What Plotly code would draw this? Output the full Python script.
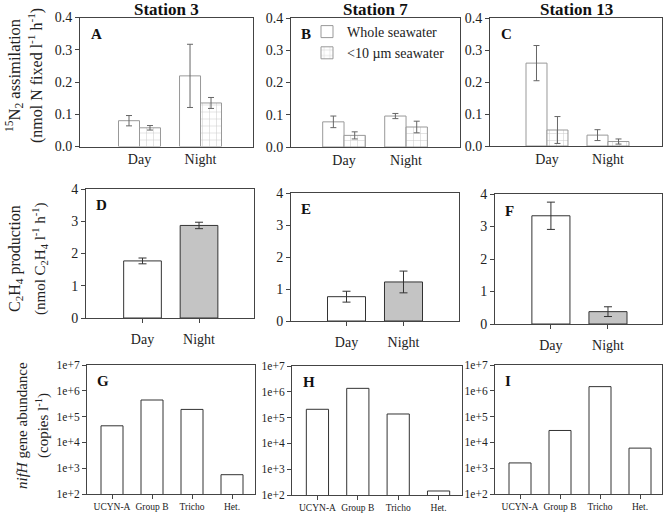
import plotly.graph_objects as go

# ---- data ----
periods = ["Day", "Night"]
groups = ["UCYN-A", "Group B", "Tricho", "Het."]

# 15N2 assimilation (nmol N fixed l-1 h-1)
n2_whole_st3 = [0.080, 0.219]
n2_whole_st3_err = [0.016, 0.098]
n2_small_st3 = [0.058, 0.135]
n2_small_st3_err = [0.007, 0.017]

n2_whole_st7 = [0.078, 0.096]
n2_whole_st7_err = [0.018, 0.008]
n2_small_st7 = [0.036, 0.062]
n2_small_st7_err = [0.011, 0.018]

n2_whole_st13 = [0.259, 0.034]
n2_whole_st13_err = [0.055, 0.017]
n2_small_st13 = [0.050, 0.014]
n2_small_st13_err = [0.042, 0.008]

# C2H4 production (nmol C2H4 l-1 h-1)
c2h4_st3 = [1.77, 2.87]
c2h4_st3_err = [0.09, 0.10]
c2h4_st7 = [0.76, 1.22]
c2h4_st7_err = [0.17, 0.34]
c2h4_st13 = [3.33, 0.38]
c2h4_st13_err = [0.42, 0.15]

# nifH gene abundance (copies l-1)
nifh_st3 = [4.4e4, 4.4e5, 1.9e5, 5.6e2]
nifh_st7 = [2.1e5, 1.36e6, 1.38e5, 1.43e2]
nifh_st13 = [1.6e3, 2.9e4, 1.45e6, 6.0e3]

stations = ["Station 3", "Station 7", "Station 13"]
letters = ["A", "B", "C", "D", "E", "F", "G", "H", "I"]

W, H = 667, 516
FONT = "Liberation Serif, Times New Roman, serif"
LINE = "#444"
TXT = "#222"


def px_x(a, b):
    return [a / W, b / W]


def px_y(top, bottom):
    return [1 - bottom / H, 1 - top / H]


# panel boxes in pixels: (left, right, top, bottom)
boxes = [
    (80, 253, 17.5, 146.5), (291, 460, 18, 147), (490, 662, 18, 146),
    (86, 254, 189, 318), (291, 459, 193, 321), (495, 662, 194, 324),
    (87, 255, 365, 494), (292, 462, 366, 495), (495, 662, 365, 494),
]
xranges = [
    [-0.975, 1.86], [-0.855, 1.87], [-0.934, 1.885],
    [-1.0, 1.973], [-0.974, 1.974], [-0.98, 1.947],
    [-0.625, 3.575], [-0.63, 3.58], [-0.625, 3.55],
]

fig = go.Figure()

w1 = 0.344
row1 = [
    (n2_whole_st3, n2_whole_st3_err, n2_small_st3, n2_small_st3_err),
    (n2_whole_st7, n2_whole_st7_err, n2_small_st7, n2_small_st7_err),
    (n2_whole_st13, n2_whole_st13_err, n2_small_st13, n2_small_st13_err),
]
for i, (wv, we, sv, se) in enumerate(row1):
    ax = "" if i == 0 else str(i + 1)
    fig.add_trace(go.Bar(
        x=[0, 1], y=wv, width=w1, offset=-w1,
        xaxis="x" + ax, yaxis="y" + ax,
        name="Whole seawater", showlegend=(i == 1), legendrank=1,
        marker={"color": "white", "line": {"color": "#999", "width": 1}},
        error_y={"type": "data", "array": we, "color": "#666",
                 "thickness": 1, "width": 3},
    ))
    fig.add_trace(go.Bar(
        x=[0, 1], y=sv, width=w1, offset=0,
        xaxis="x" + ax, yaxis="y" + ax,
        name="<10 \u00b5m seawater", showlegend=(i == 1), legendrank=2,
        marker={"color": "white", "line": {"color": "#999", "width": 1},
                "pattern": {"shape": "+", "fgcolor": "#999",
                            "bgcolor": "white", "size": 7,
                            "solidity": 0.15}},
        error_y={"type": "data", "array": se, "color": "#666",
                 "thickness": 1, "width": 3},
    ))

row2 = [(c2h4_st3, c2h4_st3_err), (c2h4_st7, c2h4_st7_err),
        (c2h4_st13, c2h4_st13_err)]
for i, (v, e) in enumerate(row2):
    ax = str(i + 4)
    fig.add_trace(go.Bar(
        x=[0, 1], y=v, width=0.667,
        xaxis="x" + ax, yaxis="y" + ax, showlegend=False,
        marker={"color": ["white", "#c4c4c4"],
                "line": {"color": "#333", "width": 1}},
        error_y={"type": "data", "array": e, "color": "#333",
                 "thickness": 1, "width": 4},
    ))

row3 = [nifh_st3, nifh_st7, nifh_st13]
for i, v in enumerate(row3):
    ax = str(i + 7)
    fig.add_trace(go.Bar(
        x=[0, 1, 2, 3], y=v, width=0.55,
        xaxis="x" + ax, yaxis="y" + ax, showlegend=False,
        marker={"color": "white", "line": {"color": "#333", "width": 1}},
    ))

layout = {}
annotations = []
for k in range(9):
    l, r, t, b = boxes[k]
    suffix = "" if k == 0 else str(k + 1)
    row = k // 3
    xa = {
        "domain": px_x(l, r), "range": xranges[k], "anchor": "y" + suffix,
        "showline": True, "mirror": True, "linecolor": LINE, "linewidth": 1,
        "showgrid": False, "zeroline": False, "fixedrange": True,
        "tickangle": 0, "automargin": False,
        "tickfont": {"family": FONT, "size": 14 if row < 2 else 9.5,
                     "color": TXT},
    }
    if row == 0:
        xa.update(tickvals=[0, 1], ticktext=periods, ticks="")
    elif row == 1:
        xa.update(tickvals=[0, 1], ticktext=periods, ticks="outside",
                  ticklen=4, tickcolor=LINE, ticklabelstandoff=4)
    else:
        xa.update(tickvals=[0, 1, 2, 3], ticktext=groups, ticks="outside",
                  ticklen=4, tickcolor=LINE)
    ya = {
        "domain": px_y(t, b), "anchor": "x" + suffix,
        "showline": True, "mirror": True, "linecolor": LINE, "linewidth": 1,
        "showgrid": False, "zeroline": False, "fixedrange": True,
        "ticks": "outside", "ticklen": 4, "tickcolor": LINE,
        "automargin": False,
        "tickfont": {"family": FONT, "size": 14 if row < 2 else 11.5,
                     "color": TXT},
    }
    if row == 0:
        ya.update(range=[0, 0.4], tickvals=[0, 0.1, 0.2, 0.3, 0.4],
                  tickformat=".1f")
    elif row == 1:
        ya.update(range=[0, 4], tickvals=[0, 1, 2, 3, 4])
    else:
        ya.update(type="log", range=[2, 7],
                  tickvals=[1e2, 1e3, 1e4, 1e5, 1e6, 1e7],
                  ticktext=["1e+2", "1e+3", "1e+4", "1e+5", "1e+6", "1e+7"])
    layout["xaxis" + suffix] = xa
    layout["yaxis" + suffix] = ya

    annotations.append(dict(
        text="<b>%s</b>" % letters[k], xref="x%s domain" % suffix,
        yref="y%s domain" % suffix, x=0.05, y=0.95, xanchor="left",
        yanchor="top", showarrow=False,
        font={"family": FONT, "size": 15, "color": "#111"},
    ))
    if row == 0:
        annotations.append(dict(
            text="<b>%s</b>" % stations[k], xref="x%s domain" % suffix,
            yref="paper", x=0.5, y=1 - 9 / H, xanchor="center",
            yanchor="middle", showarrow=False,
            font={"family": FONT, "size": 17, "color": "#111"},
        ))

ytitles = [
    ("<sup>15</sup>N<sub>2</sub> assimilation", 14, 76, 16.5),
    ("(nmol N fixed l<sup>-1</sup> h<sup>-1</sup>)", 35, 76, 16),
    ("C<sub>2</sub>H<sub>4</sub> production", 15, 259, 16),
    ("(nmol C<sub>2</sub>H<sub>4</sub> l<sup>-1</sup> h<sup>-1</sup>)", 40, 259, 15),
    ("<i>nifH</i> gene abundance", 22, 426, 15),
    ("(copies l<sup>-1</sup>)", 42, 426, 15),
]
for text, xc, yc, fs in ytitles:
    annotations.append(dict(
        text=text, xref="paper", yref="paper", x=xc / W, y=1 - yc / H,
        xanchor="center", yanchor="middle", textangle=-90, showarrow=False,
        font={"family": FONT, "size": fs, "color": TXT},
    ))

fig.update_layout(
    **layout,
    annotations=annotations,
    width=W, height=H,
    margin={"l": 0, "r": 0, "t": 0, "b": 0},
    paper_bgcolor="white", plot_bgcolor="white",
    font={"family": FONT, "color": TXT},
    showlegend=True,
    legend={"x": 307 / W, "y": 1 - 16 / H, "xanchor": "left",
            "yanchor": "top", "bgcolor": "rgba(0,0,0,0)",
            "font": {"family": FONT, "size": 14, "color": TXT},
            "tracegroupgap": 0, "traceorder": "normal",
            "itemwidth": 30},
)

# drop the default page margin so the figure sits at the window's corner
fig.write_html("out.html", config={"displayModeBar": False},
               post_script="document.body.style.margin='0';")
